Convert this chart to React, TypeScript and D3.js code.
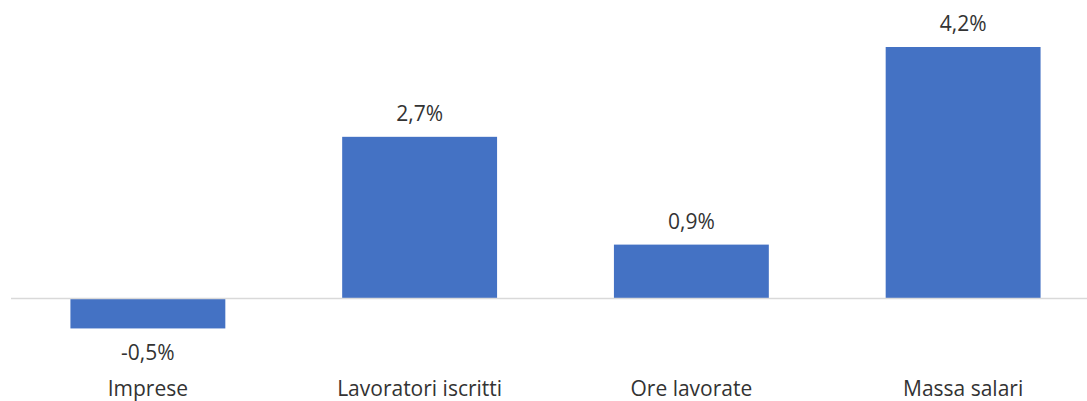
import React from "react";
import * as d3 from "d3";

const categories = ["Imprese", "Lavoratori iscritti", "Ore lavorate", "Massa salari"];
const values = [-0.5, 2.7, 0.9, 4.2];
const valueLabels = ["-0,5%", "2,7%", "0,9%", "4,2%"];

const W = 1087;
const H = 401;

export default function App() {
  const x = d3.scaleBand<string>().domain(categories).range([12, 1099]).paddingInner(0.43).paddingOuter(0.215);
  const y = d3.scaleLinear().domain([0, 4.2]).range([298.5, 47]);
  const font = "'Open Sans', 'Liberation Sans', sans-serif";
  return (
    <svg width={W} height={H} style={{ position: "absolute", left: 0, top: 0, background: "#fff" }}>
      {categories.map((c, i) => {
        const v = values[i];
        const x0 = x(c)!;
        const top = y(Math.max(0, v));
        const bot = y(Math.min(0, v));
        const cx = x0 + x.bandwidth() / 2;
        const ly = v >= 0 ? top - 16 : bot + 32;
        return (
          <g key={c}>
            <rect x={x0} y={top} width={x.bandwidth()} height={bot - top} fill="#4472C4" />
            <text x={cx} y={ly} textAnchor="middle" fontFamily={font} fontSize={21} fill="#333333">{valueLabels[i]}</text>
            <text x={cx} y={396} textAnchor="middle" fontFamily={font} fontSize={21} fill="#333333">{c}</text>
          </g>
        );
      })}
      <line x1={11} x2={1087} y1={y(0)} y2={y(0)} stroke="#d9d9d9" strokeWidth={1.5} />
    </svg>
  );
}
